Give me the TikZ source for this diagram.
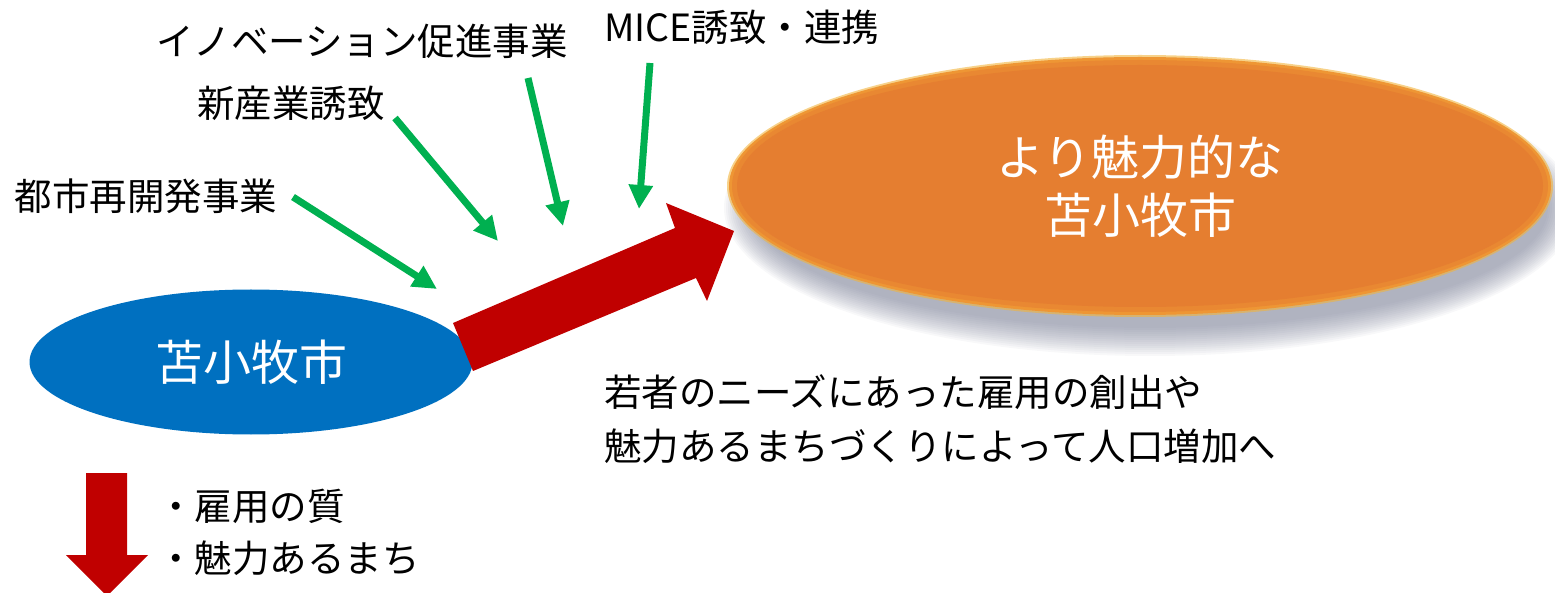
\documentclass[tikz,border=0pt]{standalone}
\usepackage{fontspec}
\setmainfont{Noto Sans CJK JP}
\usetikzlibrary{arrows.meta,shapes.geometric}
\definecolor{cblue}{RGB}{0,112,192}
\definecolor{cred}{RGB}{192,0,0}
\definecolor{cgreen}{RGB}{0,176,80}
\definecolor{corange}{RGB}{229,126,48}
\definecolor{crim}{RGB}{242,180,60}
\definecolor{cband}{RGB}{238,150,52}
\definecolor{cband2}{RGB}{233,136,50}
\definecolor{cshadow}{RGB}{110,115,140}
\begin{document}
\begin{tikzpicture}[x=1pt,y=-1pt,
  lbl/.style={font=\fontsize{37.5}{45}\selectfont, inner sep=0pt, text=black},
  bigtxt/.style={font=\fontsize{48}{58}\selectfont, text=white, align=center},
  gar/.style={draw=cgreen, line width=7pt, -{Triangle[length=24pt,width=23pt]}},
  city/.style={ellipse, inner sep=0pt},
]
\useasboundingbox (0,0) rectangle (1555,593);

% shadow of the target ellipse
\foreach \k in {0,...,14}{
  \fill[cshadow, opacity=0.05] (1150,208) ellipse [x radius={398pt+2pt*\k}, y radius={120pt+2pt*\k}];
}
% soft rim glow
\fill[crim, opacity=0.6] (1140,186) ellipse [x radius=413pt, y radius=131pt];
\fill[cband] (1140,186) ellipse [x radius=411pt, y radius=129pt];
\fill[cband2] (1140,186) ellipse [x radius=408pt, y radius=126pt];
\node[city, fill=corange, minimum width=806pt, minimum height=242pt, bigtxt] (future) at (1140,186) {より魅力的な\\苫小牧市};

% current city
\node[city, fill=cblue, minimum width=443pt, minimum height=145pt, bigtxt] (city) at (251,362) {苫小牧市};

% big red arrow
\coordinate (ra1) at (453,323);
\coordinate (ra2) at (675,228);
\coordinate (ra3) at (666,203);
\coordinate (ra4) at (734,231);
\coordinate (ra5) at (707,301);
\coordinate (ra6) at (696,278);
\coordinate (ra7) at (473,371);
\fill[cred] (ra1) -- (ra2) -- (ra3) -- (ra4) -- (ra5) -- (ra6) -- (ra7) -- cycle;

% down red arrow
\coordinate (da1) at (86,473);
\coordinate (da2) at (127,473);
\coordinate (da3) at (127,555);
\coordinate (da4) at (148,555);
\coordinate (da5) at (107,596);
\coordinate (da6) at (66,555);
\coordinate (da7) at (86,555);
\fill[cred] (da1) -- (da2) -- (da3) -- (da4) -- (da5) -- (da6) -- (da7) -- cycle;

% labels
\node[lbl] (l1) at (146,196) {都市再開発事業};
\node[lbl] (l2) at (291,103) {新産業誘致};
\node[lbl] (l3) at (362,41) {イノベーション促進事業};
\node[lbl] (l4) at (742,27) {MICE誘致・連携};

% green arrows
\coordinate (g1s) at (293,197); \coordinate (g1e) at (437,289);
\coordinate (g2s) at (395,118); \coordinate (g2e) at (498,241);
\coordinate (g3s) at (528,78);  \coordinate (g3e) at (563,226);
\coordinate (g4s) at (650,63);  \coordinate (g4e) at (639,209);
\draw[gar] (g1s) -- (g1e);
\draw[gar] (g2s) -- (g2e);
\draw[gar] (g3s) -- (g3e);
\draw[gar] (g4s) -- (g4e);

% texts
\node[lbl, anchor=west, align=left, font=\fontsize{37.5}{54}\selectfont] (desc) at (604,419) {若者のニーズにあった雇用の創出や\\魅力あるまちづくりによって人口増加へ};
\node[lbl, anchor=west, align=left, font=\fontsize{37.5}{51.5}\selectfont] (effects) at (157,532.5) {・雇用の質\\・魅力あるまち};
\end{tikzpicture}
\end{document}
